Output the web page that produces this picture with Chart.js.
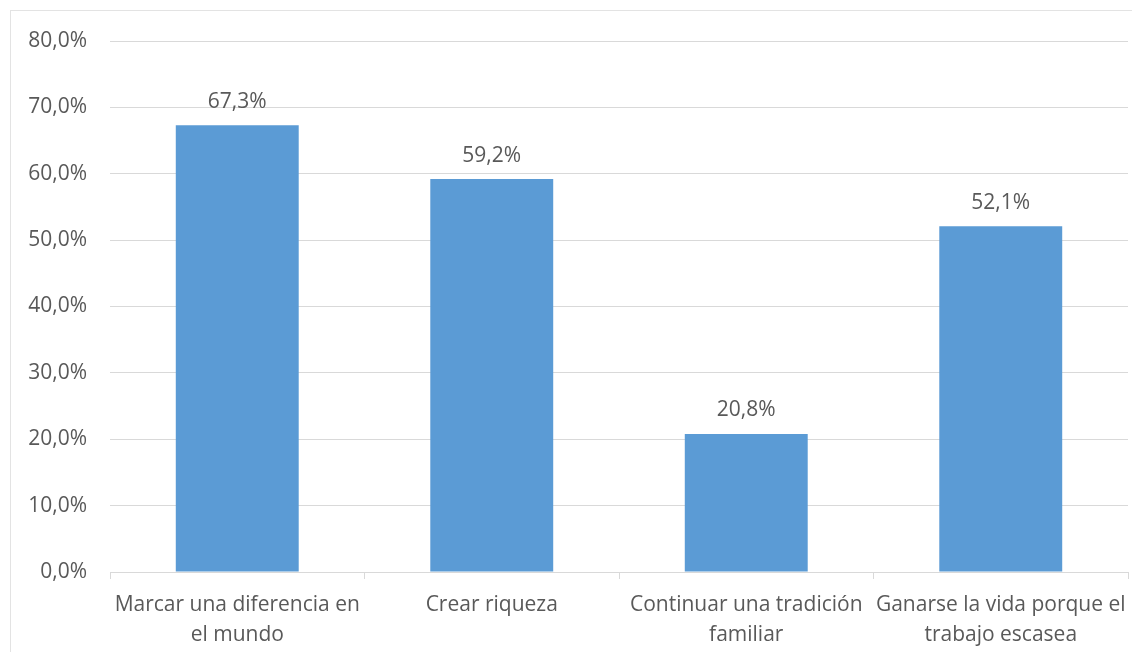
<!DOCTYPE html>
<html>
<head>
<meta charset="utf-8">
<script src="https://cdn.jsdelivr.net/npm/chart.js@4"></script>
<style>
  html, body { margin: 0; padding: 0; background: #fff; overflow: hidden; }
  .frame { position: absolute; left: 10px; top: 10px; width: 1140px; height: 660px; border: 1px solid #e3e3e3; }
  .wrap { position: absolute; left: 0; top: 0; width: 1132px; height: 652px; }
</style>
</head>
<body>
<div class="frame"></div>
<div class="wrap"><canvas id="chart" width="1132" height="652"></canvas></div>
<script>
const categories = [
  ['Marcar una diferencia en', 'el mundo'],
  'Crear riqueza',
  ['Continuar una tradición', 'familiar'],
  ['Ganarse la vida porque el', 'trabajo escasea']
]
const values = [67.3, 59.2, 20.8, 52.1]
const yTicks = [0, 10, 20, 30, 40, 50, 60, 70, 80]

const fmt = v => v.toFixed(1).replace('.', ',') + '%'
const textColor = '#595959'
const fontFamily = '"Open Sans", sans-serif'

// draw the value above each bar
const barLabels = {
  id: 'barLabels',
  afterDatasetsDraw(chart) {
    const ctx = chart.ctx
    const meta = chart.getDatasetMeta(0)
    ctx.save()
    ctx.fillStyle = textColor
    ctx.font = '21px ' + fontFamily
    ctx.textAlign = 'center'
    ctx.textBaseline = 'bottom'
    meta.data.forEach((bar, i) => {
      ctx.fillText(fmt(values[i]), bar.x, bar.y - 13)
    })
    ctx.restore()
  }
}

new Chart(document.getElementById('chart'), {
  type: 'bar',
  data: {
    labels: categories,
    datasets: [{
      data: values,
      backgroundColor: '#5b9bd5',
      barPercentage: 1,
      categoryPercentage: 0.483
    }]
  },
  options: {
    responsive: false,
    animation: false,
    layout: { padding: { top: 41, right: 4, bottom: 0, left: 0 } },
    plugins: {
      legend: { display: false },
      tooltip: { enabled: false }
    },
    scales: {
      x: {
        afterFit: s => {
          s.height = 80
          s.paddingLeft = 0
          s.paddingRight = 0
        },
        grid: {
          offset: true,
          drawOnChartArea: false,
          color: '#d9d9d9',
          tickLength: 7
        },
        border: { color: '#d9d9d9' },
        ticks: {
          color: textColor,
          font: { family: fontFamily, size: 21, lineHeight: 1.42 },
          padding: 11,
          maxRotation: 0,
          autoSkip: false
        }
      },
      y: {
        min: 0,
        max: 80,
        afterFit: s => { s.width = 110 },
        afterBuildTicks: s => { s.ticks = yTicks.map(v => ({ value: v })) },
        grid: { color: '#d9d9d9', drawTicks: false },
        border: { display: false },
        ticks: {
          color: textColor,
          font: { family: fontFamily, size: 21 },
          padding: 23,
          callback: v => fmt(v)
        }
      }
    }
  },
  plugins: [barLabels]
})
</script>
</body>
</html>
